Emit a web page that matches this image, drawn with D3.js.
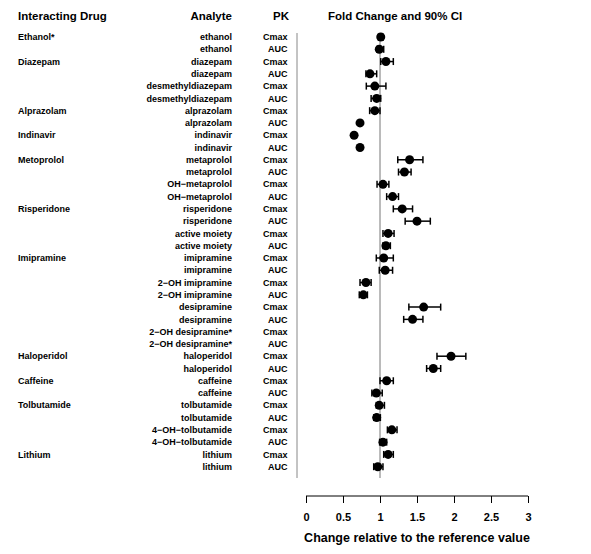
<!DOCTYPE html>
<html><head><meta charset="utf-8">
<script src="https://cdn.jsdelivr.net/npm/d3@7"></script>
<style>body{margin:0;background:#fff}svg{display:block}text{font-family:"Liberation Sans",Arial,sans-serif;font-weight:bold;fill:#000}</style>
</head><body>
<script>
const drugs = ["Ethanol*","","Diazepam","","","","Alprazolam","","Indinavir","","Metoprolol","","","","Risperidone","","","","Imipramine","","","","","","","","Haloperidol","","Caffeine","","Tolbutamide","","","","Lithium",""];
const analytes = ["ethanol","ethanol","diazepam","diazepam","desmethyldiazepam","desmethyldiazepam","alprazolam","alprazolam","indinavir","indinavir","metaprolol","metaprolol","OH\u2212metaprolol","OH\u2212metaprolol","risperidone","risperidone","active moiety","active moiety","imipramine","imipramine","2\u2212OH imipramine","2\u2212OH imipramine","desipramine","desipramine","2\u2212OH desipramine*","2\u2212OH desipramine*","haloperidol","haloperidol","caffeine","caffeine","tolbutamide","tolbutamide","4\u2212OH\u2212tolbutamide","4\u2212OH\u2212tolbutamide","lithium","lithium"];
const pk = analytes.map((d,i)=> i%2===0 ? "Cmax" : "AUC");
const est = [1.01,0.99,1.08,0.865,0.93,0.955,0.93,0.73,0.65,0.73,1.40,1.33,1.04,1.17,1.30,1.50,1.11,1.08,1.05,1.07,0.81,0.775,1.59,1.44,null,null,1.96,1.72,1.09,0.95,0.99,0.955,1.16,1.04,1.11,0.97];
const lo  = [0.98,0.96,1.01,0.81,0.815,0.88,0.86,0.71,null,null,1.24,1.25,0.96,1.09,1.18,1.34,1.04,1.04,0.95,0.99,0.73,0.72,1.39,1.32,null,null,1.77,1.63,1.0,0.89,0.95,0.915,1.10,0.995,1.05,0.915];
const hi  = [1.04,1.05,1.18,0.955,1.08,1.01,1.0,0.75,null,null,1.58,1.42,1.12,1.25,1.44,1.68,1.19,1.14,1.18,1.17,0.88,0.83,1.82,1.58,null,null,2.16,1.82,1.18,1.03,1.06,1.005,1.23,1.09,1.18,1.04];
const ticks = [0,0.5,1,1.5,2,2.5,3];
const tickLabels = ["0","0.5","1","1.5","2","2.5","3"];

const W=591,H=554;
const svg=d3.select("body").append("svg").attr("width",W).attr("height",H);
const x=d3.scaleLinear().domain([0,3]).range([306,528]);
const y=d3.scalePoint().domain(d3.range(analytes.length)).range([37,466.7]);

// headers
const hdr=svg.append("g").style("font-size","11.5px");
hdr.append("text").attr("x",18).attr("y",16).attr("dy","0.35em").text("Interacting Drug");
hdr.append("text").attr("x",232).attr("y",16).attr("dy","0.35em").attr("text-anchor","end").text("Analyte");
hdr.append("text").attr("x",289).attr("y",16).attr("dy","0.35em").attr("text-anchor","end").text("PK");
hdr.append("text").attr("x",328).attr("y",16).attr("dy","0.35em").text("Fold Change and 90% CI");

const rows=svg.append("g").style("font-size","9px");
rows.selectAll(".drug").data(drugs).join("text").attr("x",18).attr("y",(d,i)=>y(i)).attr("dy","0.35em").text(d=>d);
rows.selectAll(".an").data(analytes).join("text").attr("x",232).attr("y",(d,i)=>y(i)).attr("dy","0.35em").attr("text-anchor","end").text(d=>d);
rows.selectAll(".pk").data(pk).join("text").attr("x",287.5).attr("y",(d,i)=>y(i)).attr("dy","0.35em").attr("text-anchor","end").text(d=>d);

// vertical lines
svg.append("line").attr("x1",297).attr("x2",297).attr("y1",33).attr("y2",478).attr("stroke","#888").attr("stroke-width",1);
svg.append("line").attr("x1",x(1)).attr("x2",x(1)).attr("y1",33).attr("y2",478).attr("stroke","#777").attr("stroke-width",1);

// error bars
const idx=d3.range(analytes.length).filter(i=>lo[i]!=null);
const eb=svg.append("g").attr("stroke","#000").attr("stroke-width",1.5);
eb.selectAll(".h").data(idx).join("line").attr("x1",i=>x(lo[i])).attr("x2",i=>x(hi[i])).attr("y1",i=>y(i)).attr("y2",i=>y(i));
eb.selectAll(".cl").data(idx).join("line").attr("x1",i=>x(lo[i])).attr("x2",i=>x(lo[i])).attr("y1",i=>y(i)-3.5).attr("y2",i=>y(i)+3.5);
eb.selectAll(".ch").data(idx).join("line").attr("x1",i=>x(hi[i])).attr("x2",i=>x(hi[i])).attr("y1",i=>y(i)-3.5).attr("y2",i=>y(i)+3.5);
const pts=d3.range(analytes.length).filter(i=>est[i]!=null);
svg.append("g").selectAll("circle").data(pts).join("circle").attr("cx",i=>x(est[i])).attr("cy",i=>y(i)).attr("r",4.5).attr("fill","#000");

// axis
const ax=svg.append("g").attr("transform","translate(0,496)")
  .call(d3.axisBottom(x).tickValues(ticks).tickFormat((d,i)=>tickLabels[i]).tickSize(7).tickPadding(10));
ax.select(".domain").attr("stroke","#000").attr("d","M306,0H528");
ax.selectAll(".tick line").attr("stroke","#000");
ax.selectAll("text").style("font-size","11px").style("font-family","'Liberation Sans',Arial,sans-serif").style("font-weight","bold");
svg.append("text").attr("x",x(1.5)).attr("y",538).attr("dy","0.35em").attr("text-anchor","middle").style("font-size","12.5px").text("Change relative to the reference value");
</script>
</body></html>
